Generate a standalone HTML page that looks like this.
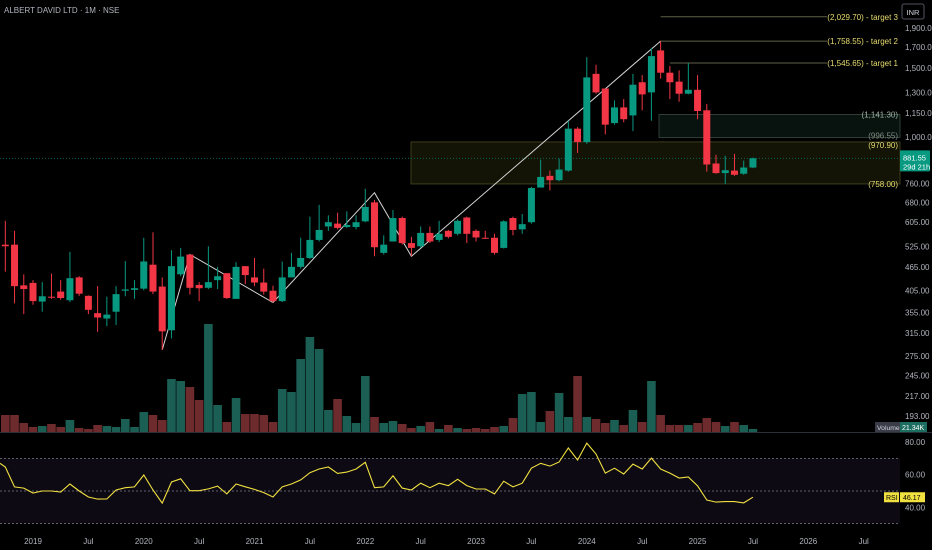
<!DOCTYPE html>
<html><head><meta charset="utf-8"><style>
html,body{margin:0;padding:0;background:#000;}
svg{display:block;font-family:"Liberation Sans",sans-serif;}
</style></head><body>
<svg id="chart" width="932" height="550" viewBox="0 0 932 550" xmlns="http://www.w3.org/2000/svg">
<rect x="0" y="0" width="932" height="550" fill="#000"/>
<text x="4" y="13" font-size="8" fill="#b2b5be">ALBERT DAVID LTD · 1M · NSE</text>
<rect x="902" y="4" width="22" height="15" fill="none" stroke="#50535e" rx="2"/>
<text x="913" y="15" font-size="7.5" fill="#d1d4dc" text-anchor="middle">INR</text>
<g id="rsiPane"></g>
<g id="drawings"></g>
<g id="vol"></g>
<g id="candles"></g>
<g id="axes"></g>
</svg>
<script>
const opens=[530,530,417,423,379,390,402,382,437,392,354,343,357,404,406,409,471,414,320,445,500,418,411,430,448,385,467,437,424,404,380,437,465,490,545,590,600,588,588,608,680,505,540,620,535,525,568,545,575,565,622,575,552,552,520,620,580,605,742,795,775,820,1050,970,1450,1330,1085,1190,1135,1380,1300,1665,1460,1385,1290,1320,1170,855,808,820,805,835];
const highs=[610,575,445,430,425,447,430,508,440,393,415,390,415,481,430,552,570,437,513,520,500,425,525,465,448,478,467,490,460,416,480,505,552,625,670,630,640,645,630,737,690,560,650,625,555,590,590,610,578,615,625,580,575,565,612,625,635,745,875,820,880,1100,1060,1600,1530,1330,1240,1250,1450,1440,1690,1758,1520,1480,1545,1440,1215,900,895,905,870,885];
const lows=[452,375,352,372,357,385,383,378,392,352,317,328,330,391,385,405,396,285,305,440,395,380,408,408,385,385,420,415,395,377,378,437,460,487,540,575,580,585,580,605,495,500,540,530,495,520,535,538,550,560,535,540,548,500,518,560,565,600,742,730,770,815,910,960,1290,1015,1075,1090,1035,1170,1100,1410,1250,1230,1285,1110,815,805,758,795,800,832];
const closes=[525,415,408,380,391,388,387,435,397,361,345,351,396,407,410,480,402,318,467,494,411,410,425,440,387,465,443,424,402,380,437,465,490,545,578,605,585,595,605,662,522,530,620,535,520,568,540,565,555,610,565,553,550,505,608,578,598,740,790,775,825,1050,970,1420,1300,1075,1190,1110,1360,1285,1610,1460,1380,1290,1320,1165,850,808,822,800,835,881.55];
const volumes=[119,119,63,35,42,56,35,84,28,21,49,42,35,91,35,140,119,84,371,357,315,224,756,189,70,238,126,126,119,70,301,280,511,665,581,154,231,112,63,392,105,63,77,56,28,42,70,21,49,28,21,28,21,35,42,98,266,280,70,147,273,105,392,105,91,63,84,49,154,70,357,119,49,49,49,63,98,70,42,70,49,21.34];
const rsi=[64.7,52.5,51.8,48.8,50,50,49.4,54.3,50,46.3,45,45.1,50.6,52,52.5,59.8,50.6,42.6,55.5,57.5,50.2,50.2,51.3,53,48.2,54.3,52.6,51,49,46.3,52.5,54.3,56.8,61.2,63.5,64.7,60.8,61.6,63.5,67.6,52,52.5,59.3,51.8,50.6,54.8,52,54.8,53.3,57.2,53.3,51.2,51.2,48.2,56,52.5,54.8,64,67,65.3,67.8,76.4,69,79.4,72.7,61,64,60.4,66.5,63.5,70.2,63.5,61,58,58.6,53.1,44.5,43.2,43.5,43.5,42.7,46.17];
const priceTicks=[1900,1700,1500,1300,1150,1000,760,680,605,525,465,405,355,315,275,245,217,193];
const rsiTicks=[80,60,40];
const timeLabels=["2019","Jul","2020","Jul","2021","Jul","2022","Jul","2023","Jul","2024","Jul","2025","Jul","2026","Jul"];
const timeLabelMonths=[3,9,15,21,27,33,39,45,51,57,63,69,75,81,87,93];
const zigzag=[[17,285],[20,500],[29,377],[40,720],[44,495],[71,1758.55]];
const targets=[[2029.70,"(2,029.70) - target 3",71],[1758.55,"(1,758.55) - target 2",71],[1545.65,"(1,545.65) - target 1",72]];

const NS="http://www.w3.org/2000/svg";
function xOf(i){return 33+(i-3)*9.23;}
function yP(p){return 28+(Math.log(1900)-Math.log(p))*169.7;}
function yV(v){return 432-v/7;}
function yR(r){return 491-(r-50)*1.63;}
function mk(parent,tag,attrs,text){const e=document.createElementNS(NS,tag);for(const k in attrs)e.setAttribute(k,attrs[k]);if(text!==undefined)e.textContent=text;parent.appendChild(e);return e;}
const GREEN="#089981",RED="#f23645";

const rp=document.getElementById('rsiPane');
let e=mk(rp,'line',{x1:0,x2:932,y1:432.5,y2:432.5,stroke:'#2a2e39'});


e=mk(rp,'rect',{x:0,y:yR(70),width:900,height:yR(30)-yR(70),fill:'#0d0a14'});


[70,50,30].forEach(v=>{
  const l=mk(rp,'line',{x1:0,x2:900,y1:yR(v),y2:yR(v),stroke:'#787b86','stroke-dasharray':'2,2','stroke-width':0.8});
  
  
});
let pts=rsi.map((r,i)=>xOf(i).toFixed(1)+','+yR(r).toFixed(1)).join(' ');
e=mk(rp,'polyline',{points:'0,'+yR(67)+' '+pts,fill:'none',stroke:'#f0e040','stroke-width':1.1});



const dr=document.getElementById('drawings');
e=mk(dr,'rect',{x:411,y:yP(970.9),width:489,height:yP(758)-yP(970.9),fill:'#131306',stroke:'#4a4a22','stroke-width':0.8});


e=mk(dr,'rect',{x:659,y:yP(1141.3),width:241,height:yP(996.55)-yP(1141.3),fill:'#08130f',stroke:'#3a4a42','stroke-width':0.8});


e=mk(dr,'line',{x1:0,x2:900,y1:yP(881.55),y2:yP(881.55),stroke:'#0b6e5e','stroke-dasharray':'1,2','stroke-width':0.8});


targets.forEach(t=>{
  const y=yP(t[0]);
  const l=mk(dr,'line',{x1:xOf(t[2]),x2:827,y1:y,y2:y,stroke:'#5f5f48','stroke-width':1});
  
  
  const tx=mk(dr,'text',{x:898,y:y+3,'font-size':8,fill:'#e6dc6e','text-anchor':'end'},t[1]);
  
  
});
[[1141.3,"(1,141.30)",'#9fb5a8',0],[996.55,"(996.55)",'#7d8a82',-2],[970.9,"(970.90)",'#e6dc6e',3],[758,"(758.00)",'#e6dc6e',0]].forEach(z=>{
  const tx=mk(dr,'text',{x:898,y:yP(z[0])+3+z[3],'font-size':8,fill:z[2],'text-anchor':'end'},z[1]);
  
  
});
pts=zigzag.map(p=>xOf(p[0]).toFixed(1)+','+yP(p[1]).toFixed(1)).join(' ');
e=mk(dr,'polyline',{points:pts,fill:'none',stroke:'#d6d6d6','stroke-width':1});



const vg=document.getElementById('vol');
volumes.forEach((v,i)=>{
  const up=closes[i]>=opens[i];
  const y=yV(v);
  const r=mk(vg,'rect',{x:xOf(i)-4.3,y:y,width:8.6,height:Math.max(432-y,0.5),fill:up?'#1b5e53':'#6e2b2d'});
  
  
});

const cg=document.getElementById('candles');
opens.forEach((o,i)=>{
  const c=closes[i],up=c>=o,col=up?GREEN:RED,x=xOf(i);
  const w=mk(cg,'line',{x1:x,x2:x,y1:yP(highs[i]),y2:yP(lows[i]),stroke:col,'stroke-width':1});
  
  
  const yt=yP(Math.max(o,c)),yb=yP(Math.min(o,c));
  const b=mk(cg,'rect',{x:x-3.5,y:yt,width:7,height:Math.max(yb-yt,1),fill:col});
  
  
});

const ax=document.getElementById('axes');
priceTicks.forEach(p=>{
  const t=mk(ax,'text',{x:905,y:yP(p)+3,'font-size':8,fill:'#b2b5be'},p.toFixed(2).replace(/\B(?=(\d{3})+(?!\d))/g,','));
  
  
});
rsiTicks.forEach(r=>{
  const t=mk(ax,'text',{x:905,y:yR(r)+3,'font-size':8,fill:'#b2b5be'},r.toFixed(2));
  
  
});
timeLabels.forEach((s,k)=>{
  const t=mk(ax,'text',{x:xOf(timeLabelMonths[k]),y:544,'font-size':8,fill:'#b2b5be','text-anchor':'middle'},s);
  
  
});
const ly=yP(881.55);
e=mk(ax,'rect',{x:900,y:ly-8,width:30,height:21,fill:GREEN,rx:1});


mk(ax,'text',{x:903,y:ly+2,'font-size':7.5,fill:'#fff'},'881.55');
mk(ax,'text',{x:903,y:ly+11,'font-size':7.5,fill:'#fff'},'29d 21h');
e=mk(ax,'rect',{x:875,y:422,width:25,height:10,fill:'#3a3d47'});


mk(ax,'text',{x:877,y:430,'font-size':6.8,fill:'#d1d4dc'},'Volume');
e=mk(ax,'rect',{x:900,y:422,width:27,height:10,fill:'#1b6e60'});


mk(ax,'text',{x:902,y:430,'font-size':7,fill:'#fff'},'21.34K');
const ry=yR(46.17);
e=mk(ax,'rect',{x:884,y:ry-5,width:15,height:10,fill:'#f0e040'});


mk(ax,'text',{x:886,y:ry+3,'font-size':7,fill:'#000'},'RSI');
e=mk(ax,'rect',{x:900,y:ry-5,width:25,height:10,fill:'#f0e040'});


mk(ax,'text',{x:903,y:ry+3,'font-size':7,fill:'#000'},'46.17');
</script>
</body></html>
